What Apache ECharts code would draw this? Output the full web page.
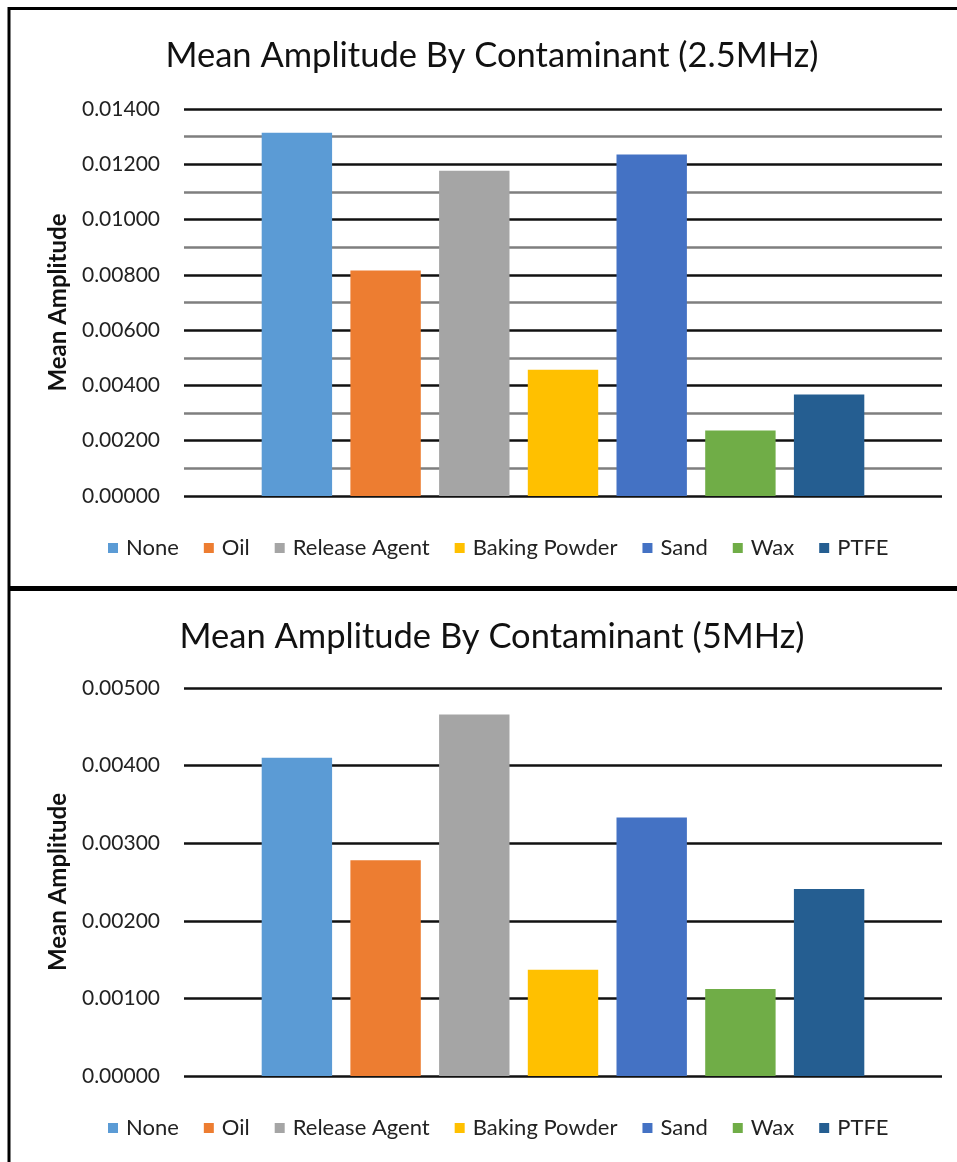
<!DOCTYPE html>
<html>
<head>
<meta charset="utf-8">
<script src="https://cdn.jsdelivr.net/npm/echarts@6/dist/echarts.min.js"></script>
<style>
  html, body { margin: 0; padding: 0; background: #fff; }
  #chart { width: 957px; height: 1162px; }
</style>
</head>
<body>
<div id="chart"></div>
<script>
// Contaminant categories, one bar (series) each
const contaminants = ['None', 'Oil', 'Release Agent', 'Baking Powder', 'Sand', 'Wax', 'PTFE'];
const barColors = ['#5B9BD5', '#ED7D31', '#A5A5A5', '#FFC000', '#4472C4', '#70AD47', '#255E91'];

// Mean amplitude per contaminant
const amplitude2_5MHz = [0.01314, 0.00816, 0.01177, 0.00457, 0.01235, 0.00237, 0.00367];
const amplitude5MHz = [0.00410, 0.00278, 0.00466, 0.00137, 0.00333, 0.00112, 0.00241];

// Axis ranges and tick spacing
const axis2_5MHz = { min: 0, max: 0.014, interval: 0.002 };
const axis5MHz = { min: 0, max: 0.005, interval: 0.001 };

const titles = ['Mean Amplitude By Contaminant (2.5MHz)', 'Mean Amplitude By Contaminant (5MHz)'];
const yAxisTitle = 'Mean Amplitude';

const FONT = 'Lato, "Open Sans", sans-serif';
const chart = echarts.init(document.getElementById('chart'), null, { renderer: 'canvas' });

function makeSeries(values, gridIdx) {
  return contaminants.map((name, i) => ({
    name: name,
    type: 'bar',
    xAxisIndex: gridIdx,
    yAxisIndex: gridIdx,
    data: [values[i]],
    itemStyle: { color: barColors[i] },
    barGap: '26%',
    barCategoryGap: '20.5%',
    emphasis: { disabled: true }
  }));
}

function makeYAxis(gridIdx, range, withMinor) {
  return {
    type: 'value',
    gridIndex: gridIdx,
    min: range.min,
    max: range.max,
    interval: range.interval,
    name: yAxisTitle,
    nameLocation: 'middle',
    nameGap: 114,
    nameRotate: 90,
    nameTextStyle: { fontFamily: FONT, fontSize: 24, fontWeight: 'bold', color: '#111' },
    axisLine: { show: false },
    axisTick: { show: false },
    axisLabel: {
      margin: 24,
      fontFamily: FONT, fontSize: 21, color: '#222',
      formatter: v => v.toFixed(5)
    },
    splitLine: { show: true, lineStyle: { color: '#111', width: 2.5 } },
    minorTick: { show: false, splitNumber: 2 },
    minorSplitLine: { show: withMinor, lineStyle: { color: '#7f7f7f', width: 2.5 } }
  };
}

function makeLegend(top) {
  return {
    top: top,
    left: 103,
    icon: 'rect',
    itemWidth: 10,
    itemHeight: 10,
    itemGap: 25,
    selectedMode: false,
    textStyle: { fontFamily: FONT, fontSize: 22, color: '#222', padding: [0, 0, 0, 3] },
    data: contaminants
  };
}

const titleStyle = { fontFamily: FONT, fontSize: 34.5, fontWeight: 'normal', color: '#111' };

const option = {
  animation: false,
  backgroundColor: '#fff',
  title: [
    { text: titles[0], left: 487, top: 33, textAlign: 'center', textStyle: titleStyle },
    { text: titles[1], left: 487, top: 614, textAlign: 'center', textStyle: titleStyle }
  ],
  legend: [makeLegend(532), makeLegend(1112)],
  grid: [
    { left: 184, top: 109, width: 758, height: 387 },
    { left: 184, top: 688, width: 758, height: 388 }
  ],
  xAxis: [0, 1].map(g => ({
    type: 'category', gridIndex: g, data: [''],
    axisLine: { show: false }, axisTick: { show: false }, axisLabel: { show: false }
  })),
  yAxis: [makeYAxis(0, axis2_5MHz, true), makeYAxis(1, axis5MHz, false)],
  series: makeSeries(amplitude2_5MHz, 0).concat(makeSeries(amplitude5MHz, 1)),
  graphic: [
    // frame lines around the two panels
    { type: 'line', shape: { x1: 8, y1: 8.5, x2: 957, y2: 8.5 }, style: { stroke: '#000', lineWidth: 3 } },
    { type: 'line', shape: { x1: 9, y1: 7, x2: 9, y2: 1162 }, style: { stroke: '#000', lineWidth: 3 } },
    { type: 'line', shape: { x1: 8, y1: 588.5, x2: 957, y2: 588.5 }, style: { stroke: '#000', lineWidth: 5 } }
  ]
};

chart.setOption(option);
</script>
</body>
</html>
